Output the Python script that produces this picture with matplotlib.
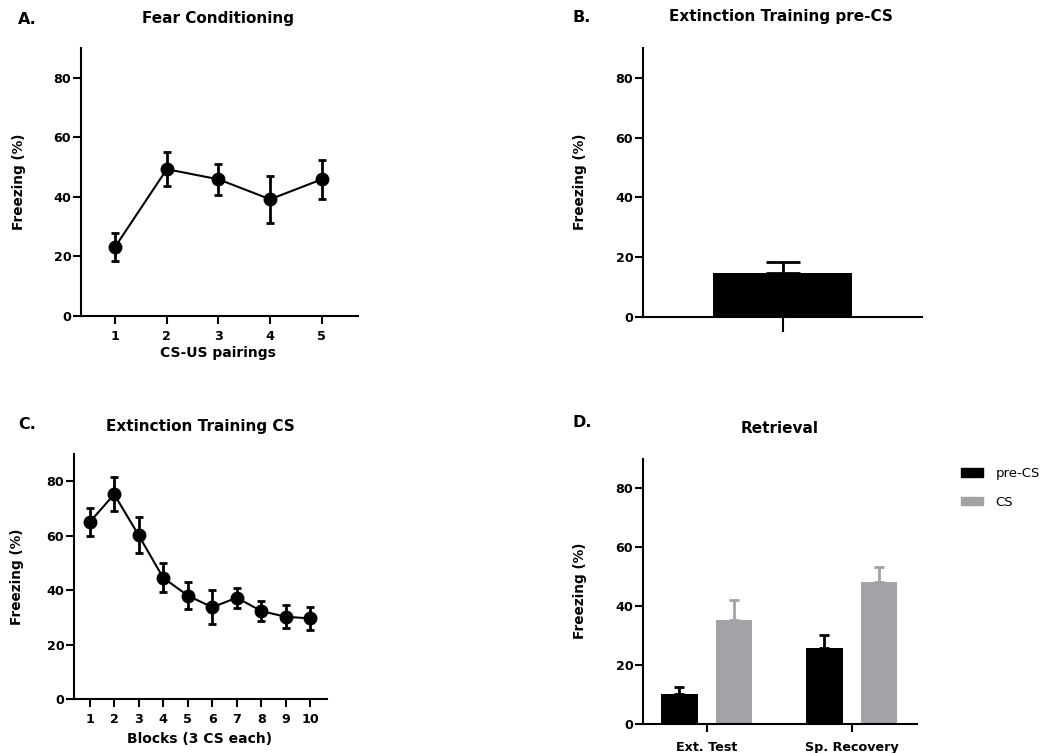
import numpy as np
import matplotlib.pyplot as plt
from matplotlib.patches import Patch

plt.rcParams['font.family'] = ['DejaVu Sans']
plt.rcParams['font.weight'] = 'bold'

# --- data ---
pairings = [1, 2, 3, 4, 5]
fc_mean = [23.2, 49.3, 45.9, 39.2, 45.9]
fc_sem = [4.8, 5.7, 5.1, 7.9, 6.5]

precs_mean = 14.8
precs_sem = 3.5

blocks = [1, 2, 3, 4, 5, 6, 7, 8, 9, 10]
ext_mean = [65.0, 75.2, 60.1, 44.5, 38.0, 33.7, 37.2, 32.3, 30.2, 29.6]
ext_sem = [5.3, 6.2, 6.6, 5.3, 5.0, 6.3, 3.6, 3.7, 4.3, 4.3]

groups = ['Ext. Test', 'Sp. Recovery']
ret_pre = [10.2, 25.7]
ret_pre_sem = [2.2, 4.5]
ret_cs = [35.3, 48.3]
ret_cs_sem = [6.8, 5.1]

GRAY = '#a3a3a7'
W, H = 1050, 753


def px_axes(left, top, right, bottom):
    return [left / W, 1 - bottom / H, (right - left) / W, (bottom - top) / H]


def style(ax, xpad=4, xlen=6):
    for s in ['top', 'right']:
        ax.spines[s].set_visible(False)
    for s in ['left', 'bottom']:
        ax.spines[s].set_linewidth(1.5)
    ax.set_ylim(0, 90)
    ax.set_yticks([0, 20, 40, 60, 80])
    ax.tick_params(axis='y', length=6, width=1.5, pad=1, labelsize=9.2)
    ax.tick_params(axis='x', length=xlen, width=1.5, pad=xpad, labelsize=9.2)
    for lab in ax.get_xticklabels() + ax.get_yticklabels():
        lab.set_fontweight('bold')


fig = plt.figure(figsize=(10.5, 7.53), dpi=100)


def ftext(x, y, s, **kw):
    fig.text(x / W, 1 - y / H, s, ha=kw.pop('ha', 'center'), va='center', **kw)


# --- A. Fear conditioning ---
axA = fig.add_axes(px_axes(81, 48, 358, 316))
axA.errorbar(pairings, fc_mean, yerr=fc_sem, color='black', marker='o', markersize=9,
             linewidth=1.5, elinewidth=2, capsize=3, capthick=2)
axA.set_xlim(0.34, 5.7)
axA.set_xticks(pairings)
style(axA)

# --- B. Extinction training pre-CS ---
axB = fig.add_axes(px_axes(643, 48, 922, 317))
axB.bar([0], [precs_mean], width=1.0, color='black')
axB.errorbar([0], [precs_mean], yerr=[[0], [precs_sem]], color='black', linewidth=0,
             elinewidth=2, capsize=12, capthick=2)
axB.set_xlim(-1, 1)
axB.set_xticks([0])
axB.set_xticklabels([''])
style(axB, xlen=11)

# --- C. Extinction training CS ---
axC = fig.add_axes(px_axes(74, 454, 327, 699))
axC.errorbar(blocks, ext_mean, yerr=ext_sem, color='black', marker='o', markersize=9,
             linewidth=1.5, elinewidth=2, capsize=3, capthick=2)
axC.set_xlim(0.36, 10.68)
axC.set_xticks(blocks)
style(axC)

# --- D. Retrieval ---
axD = fig.add_axes(px_axes(643, 459, 917, 724))
x = np.arange(len(groups))
bw, off = 0.252, 0.189
axD.bar(x - off, ret_pre, width=bw, color='black', label='pre-CS')
axD.bar(x + off, ret_cs, width=bw, color=GRAY, label='CS')
axD.errorbar(x - off, ret_pre, yerr=[[0, 0], ret_pre_sem], color='black', linewidth=0,
             elinewidth=2, capsize=3.5, capthick=2)
axD.errorbar(x + off, ret_cs, yerr=[[0, 0], ret_cs_sem], color=GRAY, linewidth=0,
             elinewidth=2, capsize=3.5, capthick=2)
axD.set_xlim(-0.44, 1.45)
axD.set_xticks(x)
axD.set_xticklabels(groups)
style(axD, xpad=6)

fig.legend(handles=[Patch(color='black', label='pre-CS'), Patch(color=GRAY, label='CS')],
           loc='upper left', bbox_to_anchor=(961 / W, 1 - 467 / H), frameon=False,
           borderpad=0, borderaxespad=0, handlelength=1.7, handleheight=0.6,
           handletextpad=0.9, labelspacing=1.2, prop={'size': 9.5, 'weight': 'normal'})

# --- titles, panel letters, axis labels ---
ftext(27, 19, 'A.', fontsize=11.5)
ftext(218, 19, 'Fear Conditioning', fontsize=11)
ftext(582, 17, 'B.', fontsize=11.5)
ftext(781, 17, 'Extinction Training pre-CS', fontsize=11)
ftext(27, 424, 'C.', fontsize=11.5)
ftext(200, 426, 'Extinction Training CS', fontsize=11)
ftext(582, 423, 'D.', fontsize=11.5)
ftext(780, 428, 'Retrieval', fontsize=11)

ftext(19, 182, 'Freezing (%)', fontsize=9.8, rotation=90)
ftext(580, 182, 'Freezing (%)', fontsize=9.8, rotation=90)
ftext(17, 577, 'Freezing (%)', fontsize=9.8, rotation=90)
ftext(580, 591, 'Freezing (%)', fontsize=9.8, rotation=90)

ftext(218, 353, 'CS-US pairings', fontsize=10)
ftext(200, 739, 'Blocks (3 CS each)', fontsize=10)

fig.savefig('out.png', dpi=100)
